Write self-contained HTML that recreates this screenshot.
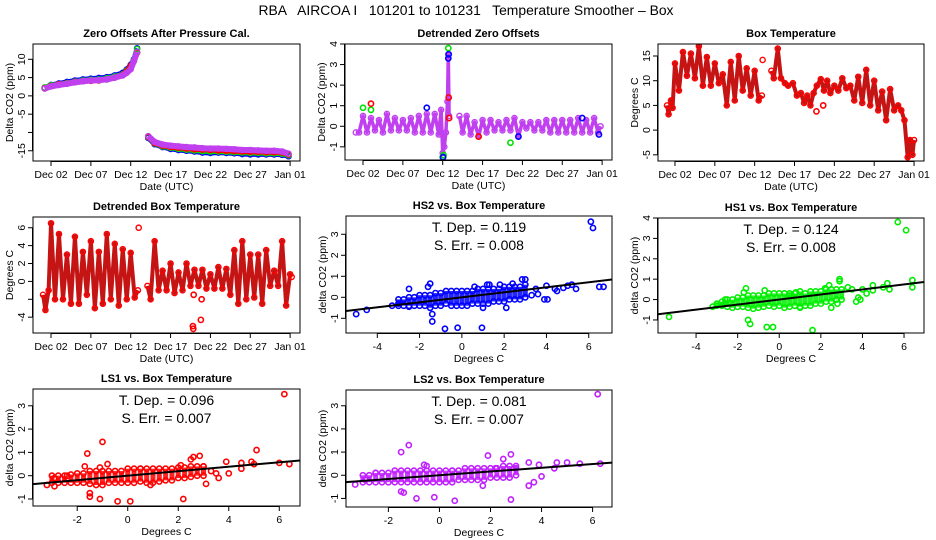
<!DOCTYPE html>
<html><head><meta charset="utf-8"><style>
html,body{margin:0;padding:0;background:#fff;}
svg{display:block;font-family:"Liberation Sans",sans-serif;}
</style></head><body>
<svg id="chart" width="936" height="540" viewBox="0 0 936 540" xmlns="http://www.w3.org/2000/svg">
<rect width="936" height="540" fill="#fff"/>
<text x="466" y="15" font-size="13.5" text-anchor="middle" textLength="415" lengthAdjust="spacingAndGlyphs" xml:space="preserve">RBA   AIRCOA I   101201 to 101231   Temperature Smoother – Box</text>
</svg>
<script>
// ---------- data ----------
const dateTicks = [1,6,11,16,21,26,31];
const dateTickLabels = ["Dec 02","Dec 07","Dec 12","Dec 17","Dec 22","Dec 27","Jan 01"];

// Panel 1: zero offsets
const p1Times = [0.2,1,2,3,4,5,6,7,8,9,10,10.5,11,11.4,11.8,null,13.2,14,15,16,17,18,19,20,21,22,23,24,25,26,27,28,29,30,30.8];
const p1Blue  = [2.2,3,3.4,3.8,4.2,4.5,4.7,4.9,5.1,5.6,6.3,7.2,8.5,10,13,null,-11.5,-13.2,-14,-14.5,-14.8,-15,-15.2,-15.5,-15.6,-15.5,-15.6,-15.7,-15.9,-16,-16,-16,-16,-16.1,-16.5];
const p1Green = [2.3,2.9,3.2,3.5,3.9,4.2,4.4,4.5,4.8,5.3,5.9,6.9,8.2,9.8,12.8,null,-11.3,-13,-13.8,-14.2,-14.5,-14.7,-14.9,-15.1,-15.2,-15.2,-15.3,-15.4,-15.5,-15.6,-15.6,-15.7,-15.7,-15.8,-16.2];
const p1Red   = [2.1,2.7,3.2,3.4,3.8,4,4.1,4.2,4.5,5,5.8,6.7,8.2,9.6,11.8,null,-11.2,-12.9,-13.6,-14,-14.2,-14.4,-14.6,-14.7,-14.8,-14.9,-15,-15.1,-15.2,-15.3,-15.3,-15.4,-15.4,-15.5,-16];
const p1Mag   = [2,2.6,3,3.3,3.7,4,4.2,4.3,4.5,5,5.6,6.3,7.3,9.5,12,null,-11,-12.6,-13.3,-13.6,-13.8,-14,-14.1,-14.3,-14.4,-14.4,-14.5,-14.6,-14.8,-14.8,-14.9,-15,-15,-15.2,-15.8];

// Panel 2: detrended zero offsets
const p2Times = [0.1,0.5,1,1.5,2,2.5,3,3.5,4,4.5,5,5.5,6,6.5,7,7.5,8,8.5,9,9.5,10,10.5,10.8,11,11.2,11.4,11.6,11.7,11.8,null,13.1,13.5,14,14.5,15,15.5,16,16.5,17,17.5,18,18.5,19,19.5,20,20.5,21,21.5,22,22.5,23,23.5,24,24.5,25,25.5,26,26.5,27,27.5,28,28.5,29,29.5,30,30.5,30.8];
const p2Mag   = [-0.3,-0.3,0.5,-0.3,0.4,-0.2,0.3,-0.3,0.6,-0.2,0.4,-0.2,0.3,-0.2,0.4,-0.3,0.5,-0.3,0.6,-0.3,0.6,-0.4,0.8,-1.3,-1,-0.3,1.2,3.5,0.5,null,0.5,-0.3,0.5,-0.4,0.2,-0.5,0.3,-0.3,0.3,-0.2,0.2,-0.2,0.3,-0.2,0.4,-0.5,0.2,-0.1,0.2,-0.2,0.2,-0.2,0.3,-0.3,0.3,-0.3,0.3,-0.3,0.3,-0.3,0.4,-0.3,0.3,-0.3,0.4,-0.3,0];
const p2GreenOutT = [1,2,11,11.1,11.7,19.5];
const p2GreenOutV = [0.9,0.8,-1.5,-1.4,3.8,-0.8];
const p2RedOutT = [2,11.75,15.5,11.8];
const p2RedOutV = [1.1,1.4,-0.5,0.4];
const p2BlueOutT = [9,11.7,11.75,20.5,11.05,30.6,28.5];
const p2BlueOutV = [0.9,3.3,3.5,-0.5,-1.5,-0.4,0.4];

// Panel 3: box temperature
const p3Times = [0,0.2,0.5,0.7,1,1.5,2,2.5,3,3.5,4,4.5,5,5.5,6,6.5,7,7.5,8,8.5,9,9.5,10,10.5,11,11.5,11.9,null,12,null,13.1,13.4,13.9,14.3,14.8,15.2,15.8,16.3,16.8,17.2,17.6,18,18.4,18.8,19.3,19.7,20.1,20.5,21,21.5,22,22.5,23,23.5,24,24.5,25,25.5,26,26.5,27,27.5,28,28.5,29,29.4,29.8,30.2,30.5,30.8,31];
const p3Temp  = [5,3.2,6,4.5,13.5,8,15.8,11,15.5,10.5,17,9,14.8,9,13.5,9.5,11.3,5,13.8,6,15,8,12.5,7,12,6,7,null,14.2,null,12,10.5,16.5,10.5,9.5,9,9.5,7,7.5,5.5,7,5,7.5,9,10.3,8,10,7.5,9,8,10.5,8.5,9,6,10.8,5.5,12.2,5,10,4,7.8,2,8.3,4,5,4,2,-5.5,-2,-5,-2];
const p3OutT = [18.75,19.6];
const p3OutV = [3.8,5];

// Panel 4: detrended box temperature
const p4Times = [0,0.3,0.7,1,1.5,2,2.5,3,3.5,4,4.5,5,5.5,6,6.5,7,7.5,8,8.5,9,9.5,10,10.5,11,11.5,11.9,null,12,null,13.1,13.5,14,14.5,15,15.5,16,16.5,17,17.5,18,18.5,19,19.5,20,20.5,21,21.5,22,22.5,23,23.5,24,24.5,25,25.5,26,26.5,27,27.5,28,28.5,29,29.5,30,30.5,31,31.2];
const p4Temp  = [-1.5,-3.2,-1,6.5,-2,5.3,-2,3,-2.5,5,-2.5,3.3,-1.5,4.5,-3,3.3,-2.5,5.3,-2,4.2,-2.7,3.6,-2,3.2,-1.8,-1,null,6,null,-0.5,-2,4.5,-1,1.2,-1,2,-1.3,1,-1,2,-0.5,1.3,-0.5,1.3,-0.8,0.8,-0.8,1.6,-0.8,1.4,-1.5,3.5,-2.5,4.5,-2,3,-1.8,3,-2.5,3.5,-0.5,1.2,-0.5,4.5,-2.7,0.8,0.5];
const p4OutT = [18.8,18.85,19.8,18.9,19.9];
const p4OutV = [-5,-5.3,-4.3,-1.5,-2];

// Scatter panels (x = Degrees C)
const coreTemps = [-3,-2.75,-2.5,-2.25,-2,-1.75,-1.5,-1.25,-1,-0.75,-0.5,-0.25,0,0.25,0.5,0.75,1,1.25,1.5,1.75,2,2.25,2.5,2.75,3];
const hs2Hi = [-0.1,-0.1,0,0,0.1,0.1,0.1,0.2,0.2,0.3,0.3,0.3,0.3,0.3,0.3,0.4,0.4,0.4,0.4,0.4,0.5,0.5,0.5,0.5,0.6];
const hs2Lo = [-0.4,-0.4,-0.4,-0.4,-0.4,-0.4,-0.5,-0.4,-0.4,-0.3,-0.4,-0.4,-0.4,-0.4,-0.3,-0.3,-0.3,-0.3,-0.2,-0.2,-0.2,-0.1,-0.1,-0.1,0];
const hs2OutX = [-5,-4.5,-2.5,-1.6,-1.5,-1.4,-1.4,-0.8,-0.2,0.95,0.6,1.2,1.3,1.8,2.4,2.85,3,2.1,1,6.1,6.2,6.5,6.7,5.4,5.2,5,4.5,4.4,4,3.9,4.05,3.5,3.3,3.6,4.8,-3.3,-3,-2.5];
const hs2OutY = [-0.8,-0.6,0.4,0.5,0.65,-0.8,-1.15,-1.5,-1.45,-1.45,0.5,0.6,0.6,0.6,0.65,0.85,0.85,-0.5,-0.5,3.6,3.3,0.5,0.5,0.4,0.6,0.55,0.3,0.4,0.55,-0.1,-0.1,0.4,0.1,0.15,0.45,-0.4,-0.3,-0.45];
const hs2Slope = [0.119];
const hs2Stats = ["T. Dep. =  0.119","S. Err. =  0.008"];

const hs1Hi = [-0.2,-0.1,0,0,0.1,0.1,0.2,0.2,0.2,0.2,0.3,0.3,0.3,0.3,0.3,0.3,0.4,0.3,0.4,0.4,0.4,0.5,0.5,0.5,0.5];
const hs1Lo = [-0.3,-0.3,-0.35,-0.4,-0.35,-0.35,-0.4,-0.45,-0.4,-0.35,-0.3,-0.35,-0.3,-0.4,-0.35,-0.3,-0.35,-0.3,-0.3,-0.2,-0.2,-0.1,-0.1,0,0];
const hs1OutX = [-5.3,-3.2,-2.6,-1.6,-1.7,-1.5,-1.4,-0.6,-0.3,-0.7,0.8,1.6,2.2,2.4,2.9,2.9,2.5,2.8,3.3,3.5,3.7,3.9,3.8,4,4.2,4.5,4.5,5.2,5,5.3,5.7,6.1,6.4,6.4,1,0.5];
const hs1OutY = [-0.85,-0.35,0,0.55,0.35,-1,-1.2,-1.35,-1.35,0.45,0.35,-1.5,0.55,0.7,1.0,0.9,-0.4,-0.2,0.6,0.5,-0.1,0,0.1,0.5,0.3,0.7,0.45,0.8,0.6,0.5,3.8,3.4,0.95,0.6,-0.4,0.2];
const hs1Slope = [0.124];
const hs1Stats = ["T. Dep. =  0.124","S. Err. =  0.008"];

const ls1Hi = [0,0,0,0.05,0.1,0.1,0.2,0.2,0.2,0.2,0.2,0.2,0.3,0.3,0.3,0.3,0.3,0.3,0.3,0.3,0.35,0.35,0.4,0.4,0.4];
const ls1Lo = [-0.3,-0.3,-0.3,-0.3,-0.3,-0.3,-0.35,-0.4,-0.4,-0.3,-0.3,-0.3,-0.3,-0.3,-0.25,-0.3,-0.3,-0.25,-0.2,-0.2,-0.1,-0.1,-0.05,0,0];
const ls1OutX = [-3.2,-2.9,-2.9,-2.4,-1.6,-1.7,-1.5,-1.5,-1.1,-1.0,-1.1,-0.8,-0.4,0.1,0.5,0.9,2.1,2.2,2.5,2.6,2.85,3.1,3.5,3.6,3.9,4,4.5,4.5,4.9,5,5.1,6,6.2,6.4,3,3.3];
const ls1OutY = [-0.4,-0.1,-0.45,0,0.95,0.4,-0.75,-0.9,-1,1.45,0.35,0.5,-1.1,-1.1,0.3,-0.4,0.45,-1,0.7,0.8,0.85,-0.35,0.1,-0.1,0.6,0.1,0.55,0.3,0.6,0.5,1.1,0.55,3.5,0.5,0.4,0.2];
const ls1Slope = [0.096];
const ls1Stats = ["T. Dep. =  0.096","S. Err. =  0.007"];

const ls2Hi = [0,0,0.1,0.1,0.1,0.2,0.2,0.2,0.2,0.2,0.2,0.2,0.2,0.2,0.2,0.2,0.3,0.3,0.3,0.3,0.3,0.3,0.4,0.4,0.4];
const ls2Lo = [-0.3,-0.3,-0.3,-0.3,-0.3,-0.3,-0.3,-0.3,-0.3,-0.3,-0.3,-0.3,-0.3,-0.3,-0.3,-0.2,-0.2,-0.2,-0.2,-0.2,-0.1,-0.1,-0.1,-0.1,0];
const ls2OutX = [-3.3,-2.9,-2.5,-1.5,-1.2,-1.5,-1.4,-0.9,-0.2,0.6,-0.6,-0.5,1.7,1.9,2.5,2.8,2.8,3.5,3.5,3.7,4,3.9,4.5,4.6,5,5.5,6.2,6.3,3,2.2,0.5];
const ls2OutY = [-0.4,-0.2,0.1,1,1.3,-0.7,-0.75,-1,-0.95,-1.1,0.45,0.4,-0.45,0.85,0.7,0.9,-1.05,0.55,-0.45,-0.3,-0.05,0.45,0.3,0.55,0.55,0.5,3.5,0.5,0.3,0.3,0.2];
const ls2Slope = [0.081];
const ls2Stats = ["T. Dep. =  0.081","S. Err. =  0.007"];

// ---------- drawing ----------
const NS = "http://www.w3.org/2000/svg";
const svg = document.getElementById("chart");
function mk(tag, attrs, parent) {
  const e = document.createElementNS(NS, tag);
  for (const k in attrs) e.setAttribute(k, attrs[k]);
  (parent || svg).appendChild(e);
  return e;
}
function linScale(d0, d1, r0, r1) { return v => r0 + (v - d0) / (d1 - d0) * (r1 - r0); }

function makePanel(key, box, xd, yd, title, xlab, ylab, xt, xtl, yt, ytl) {
  const g = mk("g", {});
  
  
  const sx = linScale(xd[0], xd[1], box.x0, box.x1);
  const sy = linScale(yd[0], yd[1], box.y1, box.y0);
  const clipId = key + "-clip";
  const cp = mk("clipPath", {id: clipId}, g);
  mk("rect", {x: box.x0, y: box.y0, width: box.x1 - box.x0, height: box.y1 - box.y0}, cp);
  const plot = mk("g", {"clip-path": "url(#" + clipId + ")"}, g);
  
  
  const frame = mk("rect", {x: box.x0, y: box.y0, width: box.x1 - box.x0, height: box.y1 - box.y0, fill: "none", stroke: "#000", "stroke-width": 1}, g);
  
  
  const t = mk("text", {x: (box.x0 + box.x1) / 2, y: box.y0 - 7, "font-size": 11, "font-weight": "bold", "text-anchor": "middle"}, g);
  t.textContent = title;
  
  
  const xa = mk("g", {}, g);
  
  
  mk("line", {x1: sx(xt[0]), x2: sx(xt[xt.length - 1]), y1: box.y1 + 0.5, y2: box.y1 + 0.5, stroke: "#000"}, xa);
  xt.forEach((v, i) => {
    mk("line", {x1: sx(v), x2: sx(v), y1: box.y1, y2: box.y1 + 5, stroke: "#000"}, xa);
    const tl = mk("text", {x: sx(v), y: box.y1 + 17, "font-size": 10.5, "text-anchor": "middle"}, xa);
    tl.textContent = xtl[i];
    
    
  });
  const xl = mk("text", {x: (box.x0 + box.x1) / 2, y: box.y1 + 29, "font-size": 10.5, "text-anchor": "middle"}, g);
  xl.textContent = xlab;
  
  
  const ya = mk("g", {}, g);
  
  
  mk("line", {x1: box.x0 - 0.5, x2: box.x0 - 0.5, y1: sy(yt[0]), y2: sy(yt[yt.length - 1]), stroke: "#000"}, ya);
  yt.forEach((v, i) => {
    mk("line", {x1: box.x0 - 5, x2: box.x0, y1: sy(v), y2: sy(v), stroke: "#000"}, ya);
    if (ytl[i] !== "") {
      const yl = mk("text", {x: 0, y: 0, "font-size": 10.5, "text-anchor": "middle", transform: "translate(" + (box.x0 - 8) + "," + sy(v) + ") rotate(-90)"}, ya);
      yl.textContent = ytl[i];
      
      
    }
  });
  const ylt = mk("text", {x: 0, y: 0, "font-size": 10.5, "text-anchor": "middle", transform: "translate(" + (box.x0 - 20) + "," + ((box.y0 + box.y1) / 2) + ") rotate(-90)"}, g);
  ylt.textContent = ylab;
  
  
  return {sx, sy, plot, box};
}

function drawSeries(p, ts, vs, color, width, name, dots) {
  let seg = [];
  const segs = [];
  ts.forEach((t, i) => {
    if (t === null || vs[i] === null) { if (seg.length) segs.push(seg); seg = []; }
    else seg.push([p.sx(t), p.sy(vs[i])]);
  });
  if (seg.length) segs.push(seg);
  segs.forEach(s => {
    if (s.length > 1) {
      const pl = mk("polyline", {points: s.map(q => q.join(",")).join(" "), fill: "none", stroke: color, "stroke-width": width, "stroke-linejoin": "round"}, p.plot);
      
      
    }
    s.forEach(q => {
      const c = mk("circle", {cx: q[0], cy: q[1], r: 2.6, fill: "none", stroke: dots || color, "stroke-width": 1.4}, p.plot);
      
      
    });
  });
}
function drawPoints(p, xs, ys, color, name) {
  xs.forEach((x, i) => {
    const c = mk("circle", {cx: p.sx(x), cy: p.sy(ys[i]), r: 2.6, fill: "none", stroke: color, "stroke-width": 1.6}, p.plot);
    
    
  });
}
function drawScatter(p, hi, lo, outX, outY, slope, stats, color, name) {
  coreTemps.forEach((x, i) => {
    const bar = mk("line", {x1: p.sx(x), x2: p.sx(x), y1: p.sy(hi[i]), y2: p.sy(lo[i]), stroke: color, "stroke-width": 5, "stroke-opacity": 0.85}, p.plot);
    
    
  });
  drawPoints(p, coreTemps, hi, color, name + '-point');
  drawPoints(p, coreTemps, lo, color, name + '-point');
  drawPoints(p, outX, outY, color, name + '-point');
  const xa = -10, xb = 10;
  const ln = mk("line", {x1: p.sx(xa), y1: p.sy(slope[0] * xa), x2: p.sx(xb), y2: p.sy(slope[0] * xb), stroke: "#000", "stroke-width": 2}, p.plot);
  
  
  const cx = (p.box.x0 + p.box.x1) / 2;
  stats.forEach((s, i) => {
    const t = mk("text", {x: cx, y: p.box.y0 + 16 + i * 18, "font-size": 14, "text-anchor": "middle", "xml:space": "preserve"}, svg);
    t.textContent = s;
    
    
  });
}

const MAG = "#c040f0";
const P1 = makePanel("zero-offsets", {x0: 33, x1: 300, y0: 44, y1: 161}, [-1.26, 32.24], [-17.8, 14.18],
  "Zero Offsets After Pressure Cal.", "Date (UTC)", "Delta CO2 (ppm)", dateTicks, dateTickLabels,
  [-15,-10,-5,0,5,10], ["-15","","-5","0","5","10"]);
drawSeries(P1, p1Times, p1Blue, "#0000ff", 5, "zero-offsets-blue");
drawSeries(P1, p1Times, p1Green, "#00e000", 5, "zero-offsets-green");
drawSeries(P1, p1Times, p1Red, "#ff0000", 5, "zero-offsets-red");
drawSeries(P1, p1Times, p1Mag, MAG, 6, "zero-offsets-magenta");

const P2 = makePanel("detrended-zero-offsets", {x0: 345, x1: 612, y0: 44, y1: 160}, [-1.26, 32.24], [-1.64, 4],
  "Detrended Zero Offsets", "Date (UTC)", "Delta CO2 (ppm)", dateTicks, dateTickLabels,
  [-1,0,1,2,3,4], ["-1","0","1","2","3","4"]);
drawSeries(P2, p2Times, p2Mag, MAG, 3.5, "detrended-offsets-magenta");
drawPoints(P2, p2GreenOutT, p2GreenOutV, "#00e000", "detrended-offsets-green-point");
drawPoints(P2, p2RedOutT, p2RedOutV, "#ff0000", "detrended-offsets-red-point");
drawPoints(P2, p2BlueOutT, p2BlueOutV, "#0000ff", "detrended-offsets-blue-point");

const P3 = makePanel("box-temperature", {x0: 658, x1: 924, y0: 44, y1: 161}, [-1.13, 32.25], [-6.25, 17.43],
  "Box Temperature", "Date (UTC)", "Degrees C", dateTicks, dateTickLabels,
  [-5,0,5,10,15], ["-5","0","5","10","15"]);
drawSeries(P3, p3Times, p3Temp, "#c41414", 4, "box-temperature", "#ff0000");
drawPoints(P3, p3OutT, p3OutV, "#ff0000", "box-temperature-outlier");

const P4 = makePanel("detrended-box-temperature", {x0: 33, x1: 300, y0: 217, y1: 333}, [-1.26, 32.24], [-5.77, 7.2],
  "Detrended Box Temperature", "Date (UTC)", "Degrees C", dateTicks, dateTickLabels,
  [-4,-2,0,2,4,6], ["-4","","0","2","4","6"]);
drawSeries(P4, p4Times, p4Temp, "#c41414", 4, "detrended-box-temperature", "#ff0000");
drawPoints(P4, p4OutT, p4OutV, "#ff0000", "detrended-box-temperature-outlier");

const degTicksA = [-4,-2,0,2,4,6], degLabelsA = ["-4","-2","0","2","4","6"];
const degTicksB = [-2,0,2,4,6], degLabelsB = ["-2","0","2","4","6"];
const P5 = makePanel("hs2-vs-box", {x0: 346, x1: 612, y0: 216, y1: 333}, [-5.48, 7.1], [-1.7, 3.87],
  "HS2 vs. Box Temperature", "Degrees C", "delta CO2 (ppm)", degTicksA, degLabelsA, [-1,0,1,2,3], ["-1","0","1","2","3"]);
drawScatter(P5, hs2Hi, hs2Lo, hs2OutX, hs2OutY, hs2Slope, hs2Stats, "#0000ff", "hs2");
const P6 = makePanel("hs1-vs-box", {x0: 658, x1: 924, y0: 218, y1: 333}, [-5.83, 6.96], [-1.64, 4.0],
  "HS1 vs. Box Temperature", "Degrees C", "delta CO2 (ppm)", degTicksA, degLabelsA, [-1,0,1,2,3,4], ["-1","0","1","2","3","4"]);
drawScatter(P6, hs1Hi, hs1Lo, hs1OutX, hs1OutY, hs1Slope, hs1Stats, "#00ee00", "hs1");
const P7 = makePanel("ls1-vs-box", {x0: 33, x1: 300, y0: 389, y1: 506}, [-3.75, 6.82], [-1.3, 3.72],
  "LS1 vs. Box Temperature", "Degrees C", "delta CO2 (ppm)", degTicksB, degLabelsB, [-1,0,1,2,3], ["-1","0","1","2","3"]);
drawScatter(P7, ls1Hi, ls1Lo, ls1OutX, ls1OutY, ls1Slope, ls1Stats, "#ff0000", "ls1");
const P8 = makePanel("ls2-vs-box", {x0: 346, x1: 612, y0: 390, y1: 507}, [-3.66, 6.76], [-1.37, 3.68],
  "LS2 vs. Box Temperature", "Degrees C", "delta CO2 (ppm)", degTicksB, degLabelsB, [-1,0,1,2,3], ["-1","0","1","2","3"]);
drawScatter(P8, ls2Hi, ls2Lo, ls2OutX, ls2OutY, ls2Slope, ls2Stats, "#c020ff", "ls2");
</script>
</body></html>
